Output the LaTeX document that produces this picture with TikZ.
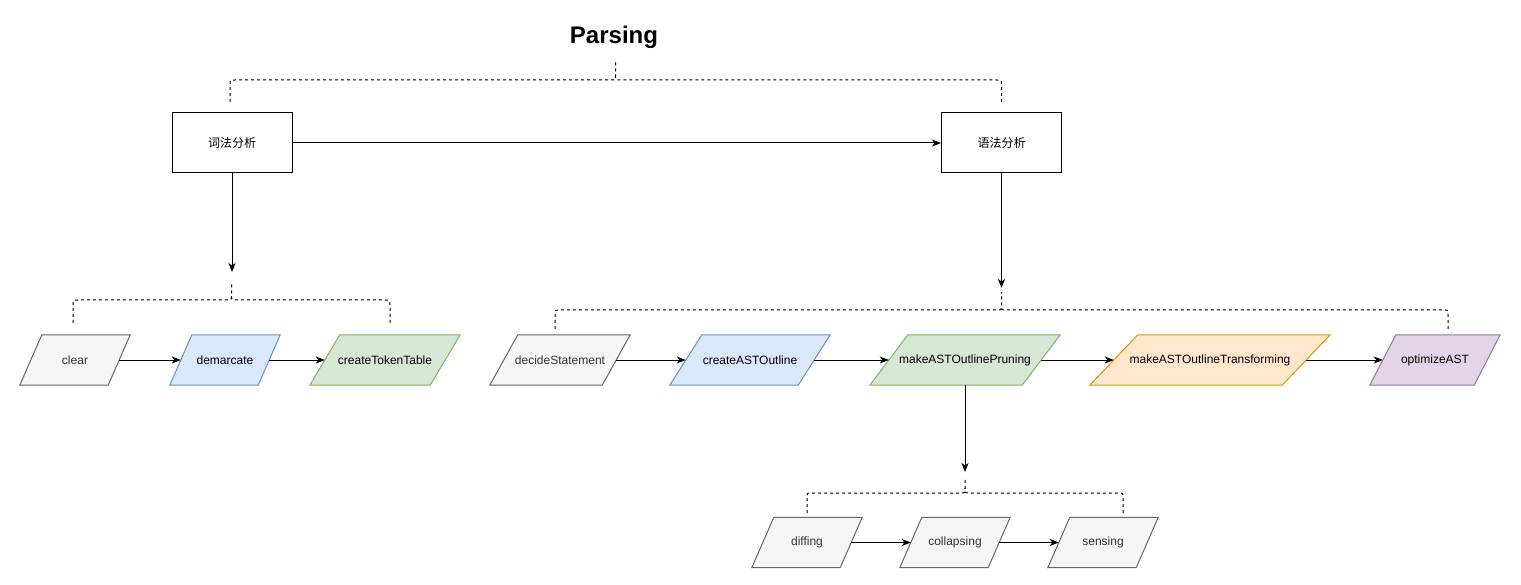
\documentclass[tikz,border=0pt]{standalone}
\usepackage{fontspec}
\setmainfont{Liberation Sans}
\newfontfamily\cjk{Noto Sans CJK SC}
\usetikzlibrary{arrows.meta,backgrounds}
\definecolor{gfill}{HTML}{F5F5F5}\definecolor{gline}{HTML}{666666}
\definecolor{bfill}{HTML}{DAE8FC}\definecolor{bline}{HTML}{6C8EBF}
\definecolor{nfill}{HTML}{D5E8D4}\definecolor{nline}{HTML}{82B366}
\definecolor{ofill}{HTML}{FFE6CC}\definecolor{oline}{HTML}{D79B00}
\definecolor{pfill}{HTML}{E1D5E7}\definecolor{pline}{HTML}{9673A6}
\definecolor{gtext}{HTML}{333333}
\tikzset{
  lbl/.style={inner sep=0pt, minimum height=50pt, font=\fontsize{12}{14}\selectfont},
  box/.style={draw, line width=1pt, minimum width=120pt, minimum height=60pt, inner sep=0pt, font=\cjk\fontsize{12}{14}\selectfont},
  conn/.style={line width=1pt, -{Stealth[length=9pt,width=7pt,inset=2.5pt]}},
  bracestyle/.style={line width=1pt, dash pattern=on 3pt off 3pt},
  pgray/.style={fill=gfill, draw=gline},
  pblue/.style={fill=bfill, draw=bline},
  pgreen/.style={fill=nfill, draw=nline},
  porange/.style={fill=ofill, draw=oline},
  ppurple/.style={fill=pfill, draw=pline},
}
% name, x, y, width, shape style, text colour, text
\newcommand{\pnode}[7]{%
  \node[lbl, minimum width=0.8*#4, text=#6] (#1) at (#2,#3) {#7};
  \begin{scope}[on background layer]
    \filldraw[#5, line width=1pt] ([xshift=-0.1*#4]#1.south west) -- ([xshift=0.1*#4]#1.north west)
      -- ([xshift=0.1*#4]#1.north east) -- ([xshift=-0.1*#4]#1.south east) -- cycle;
  \end{scope}}
% left x, right x, centre x, horizontal y, end y, tip y
\newcommand{\dbrace}[6]{%
  \draw[bracestyle] (#1,#5) -- (#1,#4+5) .. controls (#1,#4) .. (#1+5,#4) -- (#3-5,#4)
    .. controls (#3,#4) .. (#3,#4-5) -- (#3,#6);
  \draw[bracestyle] (#2,#5) -- (#2,#4+5) .. controls (#2,#4) .. (#2-5,#4) -- (#3+5,#4)
    .. controls (#3,#4) .. (#3,#4-5);}
\begin{document}
\begin{tikzpicture}[x=1pt,y=-1pt]
\begin{scope}[on background layer]
  \fill[white] (0,0) rectangle (1521,585);
\end{scope}
\useasboundingbox (0,0) rectangle (1521,585);

\node[font=\bfseries\fontsize{24}{28}\selectfont] (title) at (614,37) {Parsing};
\dbrace{230}{1001.5}{615.5}{80}{102}{61}

\node[box] (lex) at (232,143) {词法分析};
\node[box] (syn) at (1001.5,143) {语法分析};
\draw[conn] (lex) -- (syn);

% lexical branch
\coordinate (a1) at (232,272);
\draw[conn] (lex.south) -- (a1);
\dbrace{73}{390}{231.5}{300}{323}{283}
\pnode{clear}{75}{360}{110}{pgray}{gtext}{clear}
\pnode{demarcate}{225}{360}{110}{pblue}{black}{demarcate}
\pnode{ctt}{385}{360}{150}{pgreen}{black}{createTokenTable}
\draw[conn] (clear) -- (demarcate);
\draw[conn] (demarcate) -- (ctt);

% syntax branch
\coordinate (a2) at (1001.5,288);
\draw[conn] (syn.south) -- (a2);
\dbrace{555}{1448}{1001.5}{310}{329}{292}
\pnode{decide}{560}{360}{140}{pgray}{gtext}{decideStatement}
\pnode{outline}{750}{360}{160}{pblue}{black}{createASTOutline}
\pnode{pruning}{965}{360}{190}{pgreen}{black}{makeASTOutlinePruning}
\pnode{transf}{1210}{360}{240}{porange}{black}{makeASTOutlineTransforming}
\pnode{optim}{1435}{360}{130}{ppurple}{black}{optimizeAST}
\draw[conn] (decide) -- (outline);
\draw[conn] (outline) -- (pruning);
\draw[conn] (pruning) -- (transf);
\draw[conn] (transf) -- (optim);

% pruning branch
\coordinate (a3) at (965,472);
\draw[conn] (pruning.south) -- (a3);
\dbrace{807}{1123}{965}{493}{513}{479}
\pnode{diffing}{807}{542.5}{110}{pgray}{gtext}{diffing}
\pnode{collapsing}{955}{542.5}{110}{pgray}{gtext}{collapsing}
\pnode{sensing}{1103}{542.5}{110}{pgray}{gtext}{sensing}
\draw[conn] (diffing) -- (collapsing);
\draw[conn] (collapsing) -- (sensing);
\end{tikzpicture}
\end{document}
